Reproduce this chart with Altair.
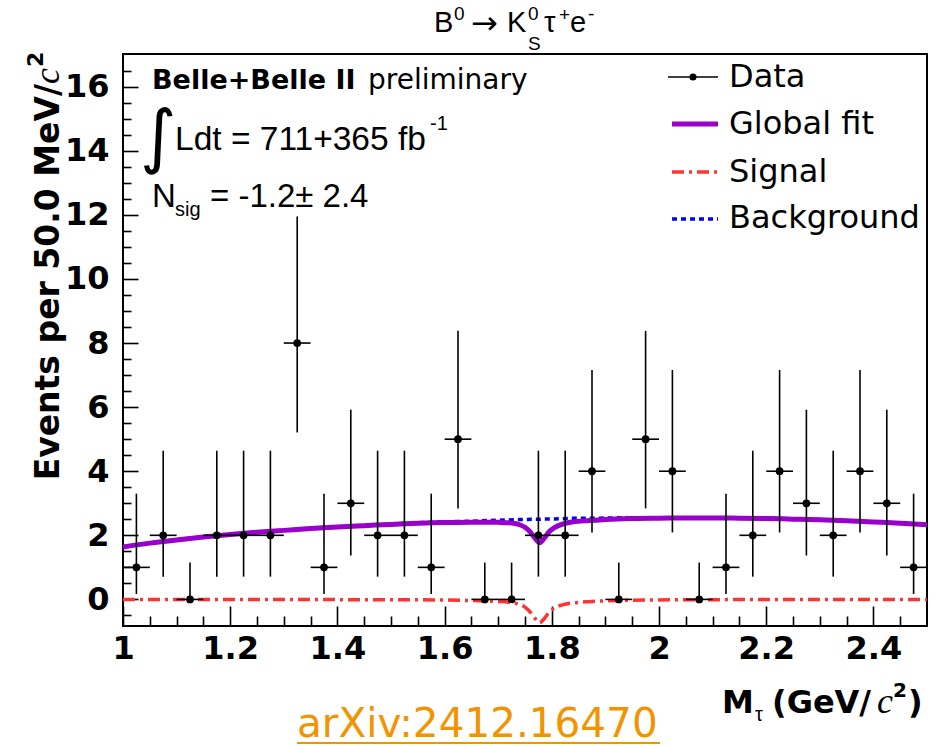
import altair as alt
import pandas as pd

# ---------------------------------------------------------------- data
# Bin centres of the M_tau histogram (50 MeV bins) and event counts
bin_center = [1.025, 1.075, 1.125, 1.175, 1.225, 1.275, 1.325, 1.375, 1.425, 1.475,
              1.525, 1.575, 1.625, 1.675, 1.725, 1.775, 1.825, 1.875, 1.925, 1.975,
              2.025, 2.075, 2.125, 2.175, 2.225, 2.275, 2.325, 2.375, 2.425, 2.475]
counts = [1, 2, 0, 2, 2, 2, 8, 1, 3, 2, 2, 1, 5, 0, 0,
          2, 2, 4, 0, 5, 4, 0, 1, 2, 4, 3, 2, 4, 3, 1]
# Asymmetric (Poisson) error band edges per bin
err_low = [0.17, 0.71, 0.0, 0.71, 0.71, 0.71, 5.21, 0.17, 1.37, 0.71,
           0.71, 0.17, 2.84, 0.0, 0.0, 0.71, 0.71, 2.09, 0.0, 2.84,
           2.09, 0.0, 0.17, 0.71, 2.09, 1.37, 0.71, 2.09, 1.37, 0.17]
err_high = [3.30, 4.64, 1.15, 4.64, 4.64, 4.64, 11.95, 3.30, 5.92, 4.64,
            4.64, 3.30, 8.38, 1.15, 1.15, 4.64, 4.64, 7.16, 1.15, 8.38,
            7.16, 1.15, 3.30, 4.64, 7.16, 5.92, 4.64, 7.16, 5.92, 3.30]
bin_half_width = 0.025

# Fit curves sampled along M_tau
curve_m = [1.00, 1.05, 1.10, 1.15, 1.20, 1.25, 1.30, 1.35, 1.40, 1.45, 1.50, 1.55,
           1.60, 1.65, 1.68, 1.70, 1.72, 1.74, 1.75, 1.76, 1.77, 1.777, 1.785,
           1.795, 1.805, 1.82, 1.84, 1.87, 1.90, 1.95, 2.00, 2.05, 2.10, 2.15,
           2.20, 2.25, 2.30, 2.35, 2.40, 2.45, 2.50]
background = [1.64, 1.76, 1.86, 1.95, 2.03, 2.10, 2.16, 2.22, 2.27, 2.31, 2.35, 2.39,
              2.42, 2.44, 2.46, 2.47, 2.48, 2.49, 2.49, 2.50, 2.50, 2.50, 2.51,
              2.51, 2.51, 2.52, 2.53, 2.53, 2.54, 2.55, 2.55, 2.55, 2.55, 2.54,
              2.53, 2.51, 2.49, 2.46, 2.42, 2.38, 2.33]
signal = [-0.004, -0.004, -0.004, -0.005, -0.005, -0.005, -0.006, -0.006, -0.007,
          -0.008, -0.009, -0.012, -0.02, -0.035, -0.05, -0.065, -0.09, -0.16, -0.24,
          -0.40, -0.62, -0.73, -0.62, -0.40, -0.27, -0.17, -0.11, -0.07, -0.045,
          -0.025, -0.015, -0.01, -0.008, -0.006, -0.005, -0.005, -0.004, -0.004,
          -0.004, -0.003, -0.003]
global_fit = [1.636, 1.756, 1.856, 1.945, 2.025, 2.095, 2.154, 2.214, 2.263, 2.302,
              2.341, 2.378, 2.40, 2.405, 2.41, 2.405, 2.39, 2.33, 2.25, 2.10, 1.88,
              1.77, 1.89, 2.11, 2.24, 2.35, 2.42, 2.46, 2.495, 2.525, 2.535, 2.54,
              2.542, 2.534, 2.525, 2.505, 2.486, 2.456, 2.416, 2.377, 2.327]

# Axis tick positions
x_labels = [1.0, 1.2, 1.4, 1.6, 1.8, 2.0, 2.2, 2.4]
x_minor = [1.05, 1.1, 1.15, 1.25, 1.3, 1.35, 1.45, 1.5, 1.55, 1.65, 1.7, 1.75,
           1.85, 1.9, 1.95, 2.05, 2.1, 2.15, 2.25, 2.3, 2.35, 2.45]
y_labels = [0, 2, 4, 6, 8, 10, 12, 14, 16]
y_minor = [-0.5, 0.5, 1, 1.5, 2.5, 3, 3.5, 4.5, 5, 5.5, 6.5, 7, 7.5, 8.5, 9, 9.5,
           10.5, 11, 11.5, 12.5, 13, 13.5, 14.5, 15, 15.5, 16.5]

X_DOMAIN = [1.0, 2.5]
Y_DOMAIN = [-0.83, 17.02]

# ---------------------------------------------------------------- layout
LEFT, TOP, W, H = 123, 54, 804, 572
SANS = "DejaVu Sans"
HELV = "Liberation Sans"
SERIF = "Liberation Serif"

pts = pd.DataFrame({"m": bin_center, "n": counts, "lo": err_low, "hi": err_high})
pts["ml"] = pts["m"] - bin_half_width
pts["mr"] = pts["m"] + bin_half_width
curves = pd.DataFrame({"m": curve_m, "bkg": background, "sig": signal, "fit": global_fit})

xs = alt.Scale(domain=X_DOMAIN, nice=False, zero=False)
ys = alt.Scale(domain=Y_DOMAIN, nice=False, zero=False)

base = alt.Chart(pts)

# main axes: labels only
x_main_axis = alt.Axis(values=x_labels, format="~g", labelFont=SANS, labelFontWeight="bold",
                       labelFontSize=32, labelColor="black", labelPadding=7, ticks=False,
                       tickSize=0, domain=False, grid=False, title=None, labelFlush=False,
                       labelOverlap=False, orient="bottom")
y_main_axis = alt.Axis(values=y_labels, format="d", labelFont=SANS, labelFontWeight="bold",
                       labelFontSize=32, labelColor="black", labelPadding=14, ticks=False,
                       tickSize=0, domain=False, grid=False, title=None, labelOverlap=False,
                       orient="left")


def tick_axis(orient, values, size):
    # ticks drawn inside the frame
    return alt.Axis(orient=orient, values=values, labels=False, domain=False, grid=False,
                    ticks=True, tickSize=size, offset=-size, tickColor="black",
                    tickWidth=1.6, title=None)


err_bars = base.mark_rule(color="black", strokeWidth=1.6).encode(
    x=alt.X("m:Q", scale=xs, axis=x_main_axis),
    y=alt.Y("lo:Q", scale=ys, axis=y_main_axis),
    y2="hi:Q",
)
bin_bars = base.mark_rule(color="black", strokeWidth=1.6).encode(
    x=alt.X("ml:Q", scale=xs, axis=None),
    x2="mr:Q",
    y=alt.Y("n:Q", scale=ys, axis=None),
)
dots = base.mark_circle(color="black", opacity=1, size=60).encode(
    x=alt.X("m:Q", scale=xs, axis=None),
    y=alt.Y("n:Q", scale=ys, axis=None),
)

major_ticks = base.mark_point(opacity=0).encode(
    x=alt.X("m:Q", scale=xs, axis=tick_axis("bottom", x_labels, 20)),
    y=alt.Y("n:Q", scale=ys, axis=tick_axis("left", y_labels, 15)),
)
minor_ticks = base.mark_point(opacity=0).encode(
    x=alt.X("m:Q", scale=xs, axis=tick_axis("bottom", x_minor, 10)),
    y=alt.Y("n:Q", scale=ys, axis=tick_axis("left", y_minor, 8)),
)

cbase = alt.Chart(curves)
bkg_line = cbase.mark_line(color="#0000FF", strokeWidth=3.5, strokeDash=[5, 4],
                           interpolate="monotone", clip=True).encode(
    x=alt.X("m:Q", scale=xs, axis=None), y=alt.Y("bkg:Q", scale=ys, axis=None))
sig_line = cbase.mark_line(color="#FF3333", strokeWidth=3.5, strokeDash=[12, 5, 3, 5],
                           interpolate="monotone", clip=True).encode(
    x=alt.X("m:Q", scale=xs, axis=None), y=alt.Y("sig:Q", scale=ys, axis=None))
fit_line = cbase.mark_line(color="#9900CC", strokeWidth=5, interpolate="monotone",
                           clip=True).encode(
    x=alt.X("m:Q", scale=xs, axis=None), y=alt.Y("fit:Q", scale=ys, axis=None))

one = alt.Data(values=[{"k": 0}])


def text(s, x, y, size, font=SANS, weight="normal", style="normal", align="left",
         baseline="alphabetic", angle=0, color="black"):
    return alt.Chart(one).mark_text(
        text=s, font=font, fontSize=size, fontWeight=weight, fontStyle=style,
        align=align, baseline=baseline, angle=angle, color=color,
    ).encode(x=alt.value(x - LEFT), y=alt.value(y - TOP))


def rule(x1, x2, y, color, width, dash=None):
    kw = dict(color=color, strokeWidth=width)
    if dash:
        kw["strokeDash"] = dash
    return alt.Chart(one).mark_rule(**kw).encode(
        x=alt.value(x1 - LEFT), x2=alt.value(x2 - LEFT), y=alt.value(y - TOP))


decor = [
    # title  B0 -> K0_S tau+ e-
    text("B", 434, 32, 29, font=HELV),
    text("0", 454, 20, 19, font=HELV),
    text("→", 471, 34, 32, font=SANS),
    text("K", 507, 32, 29, font=HELV),
    text("0", 528, 20, 19, font=HELV),
    text("S", 528, 50, 19, font=HELV),
    text("τ", 544, 32, 29, font=HELV),
    text("+", 559, 21, 19, font=HELV),
    text("e", 570, 32, 29, font=HELV),
    text("-", 588, 20, 19, font=HELV),
    # y title
    text("Events per 50.0 MeV/", 59, 84, 33, weight="bold", align="right", angle=270),
    text("c", 59, 84, 36, font=SERIF, style="italic", angle=270),
    text("2", 43, 67, 22, weight="bold", angle=270),
    # x title
    text("M", 722, 713, 32, weight="bold"),
    text("τ", 755, 721, 20, font=HELV),
    text("(GeV/", 772, 713, 32, weight="bold"),
    text("c", 877, 713, 36, font=SERIF, style="italic"),
    text("2", 893, 697, 20, weight="bold"),
    text(")", 908, 713, 32, weight="bold"),
    # annotations
    text("Belle+Belle II", 152, 89, 27, weight="bold"),
    text("preliminary", 368, 89, 28),
    text("∫", 140, 160, 70),
    text("Ldt = 711+365 fb", 175, 150, 33.5, font=HELV),
    text("-1", 430, 130, 20, font=HELV),
    text("N", 152, 207, 33, font=HELV),
    text("sig", 175, 216, 20, font=HELV),
    text("= -1.2± 2.4", 210, 207, 33, font=HELV),
    # legend
    rule(668, 718, 77, "black", 1.5),
    alt.Chart(one).mark_circle(color="black", opacity=1, size=50).encode(
        x=alt.value(693 - LEFT), y=alt.value(77 - TOP)),
    text("Data", 729, 77, 32, baseline="middle"),
    rule(672, 718, 124, "#9900CC", 5),
    text("Global fit", 729, 124, 32, baseline="middle"),
    rule(672, 718, 172, "#FF3333", 3.5, [12, 5, 3, 5]),
    text("Signal", 729, 172, 32, baseline="middle"),
    rule(672, 718, 219, "#0000FF", 3.5, [5, 4]),
    text("Background", 729, 218, 32, baseline="middle"),
    # reference link
    text("arXiv:2412.16470", 297, 737, 40.5, color="#F29400"),
    rule(297, 660, 743, "#F29400", 2),
]

chart = alt.layer(
    bkg_line, sig_line, fit_line, err_bars, bin_bars, dots, major_ticks, minor_ticks,
    *decor,
).resolve_axis(x="independent", y="independent").properties(
    width=W, height=H,
    padding={"left": LEFT, "top": TOP, "right": 948 - LEFT - W, "bottom": 748 - TOP - H},
    autosize=alt.AutoSizeParams(type="none"),
    background="white",
).configure_view(stroke="black", strokeWidth=2)

chart.save("out.html", embed_options={"renderer": "svg", "actions": False})
